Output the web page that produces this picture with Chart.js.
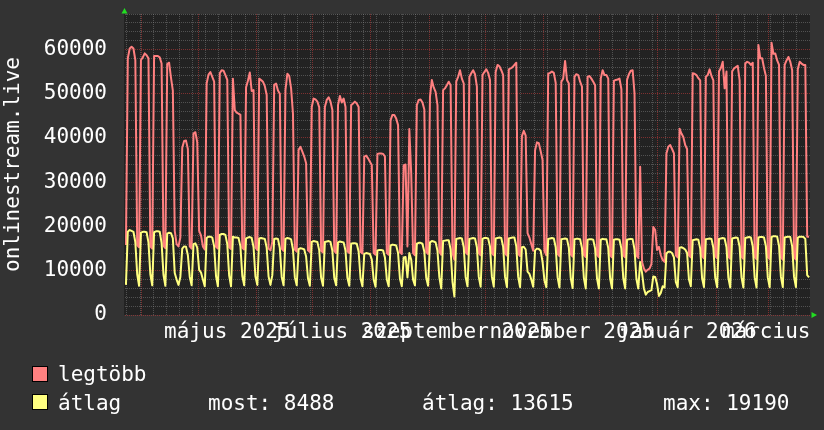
<!DOCTYPE html>
<html>
<head>
<meta charset="utf-8">
<script src="https://cdn.jsdelivr.net/npm/chart.js@4"></script>
<style>
  html, body { margin: 0; padding: 0; background: #333333; }
  canvas { display: block; }
</style>
</head>
<body>
<canvas id="chart" width="824" height="430"></canvas>
<script>
// one point per day, first day is Sunday 2025-03-23, then Mon..Sun rows
const maxValues = [15800,
  58000, 60200, 60600, 60200, 57600, 15800, 15300,
  57600, 58200, 59100, 58700, 58000, 15500, 15000,
  58500, 58500, 58500, 58200, 56800, 15600, 15100,
  56700, 57000, 53600, 50700, 19000, 16000, 15500,
  17500, 37800, 39300, 39400, 37500, 15500, 15000,
  41000, 41300, 39000, 19000, 18000, 15500, 14800,
  52300, 54300, 54900, 53800, 52700, 15400, 15000,
  54600, 55300, 55200, 54200, 53100, 15300, 14900,
  53400, 46300, 45700, 45500, 45200, 15200, 14800,
  51400, 52900, 54800, 50600, 50800, 15200, 14700,
  53400, 53100, 52700, 51700, 49700, 15000, 14600,
  16500, 52000, 52300, 50700, 50000, 15000, 14500,
  50800, 54500, 54000, 51200, 45500, 14800, 14300,
  37300, 38000, 36900, 35800, 34300, 14600, 14200,
  47000, 48900, 48700, 48200, 46900, 14500, 14100,
  47000, 48600, 49200, 48200, 46300, 14500, 14000,
  47400, 49500, 48000, 48900, 47000, 14400, 14000,
  47400, 47800, 48200, 47800, 47000, 14300, 13900,
  35800, 36000, 35400, 34600, 33900, 14000, 13600,
  36400, 36500, 36500, 36400, 35800, 14000, 13600,
  44000, 45200, 45200, 44400, 42900, 14200, 13800,
  33800, 34000, 15500, 42000, 32000, 14000, 13500,
  47400, 48600, 48700, 48000, 46400, 14200, 13800,
  49300, 53100, 51400, 50400, 47400, 14300, 13600,
  50800, 51200, 51900, 52700, 51900, 14000, 12500,
  52700, 53800, 55300, 53400, 52300, 14200, 13700,
  53800, 54600, 55300, 54400, 51600, 14000, 13500,
  54200, 54900, 55500, 54700, 53100, 14000, 13500,
  54900, 56500, 56200, 55300, 54200, 13900, 13400,
  55500, 55700, 56000, 56500, 57000, 13800, 13300,
  40400, 41600, 40500, 18500, 17500, 16000, 14500,
  37200, 39000, 38800, 37000, 35000, 14500, 13500,
  54500, 54700, 55000, 54700, 52400, 13800, 13300,
  52700, 53400, 57400, 53100, 52300, 13700, 13200,
  53800, 54400, 54200, 52700, 51600, 13600, 13100,
  53800, 54000, 53400, 52700, 51900, 13600, 13100,
  53400, 55300, 54200, 54200, 53400, 13500, 13000,
  52900, 53100, 53200, 53400, 51000, 13500, 13000,
  53100, 54400, 55200, 55300, 50000, 13400, 12900,
  33500, 12000, 10500, 9800, 10200, 10500, 11500,
  19900, 19200, 14700, 15400, 13500, 12400, 12000,
  36500, 38000, 38400, 37500, 36500, 13500, 13000,
  42100, 41000, 40200, 38400, 37500, 13500, 13000,
  54600, 54500, 54200, 53500, 53000, 13300, 12800,
  53800, 54200, 55500, 54000, 53000, 13300, 12800,
  55000, 55800, 57200, 51200, 55000, 13200, 12700,
  55000, 55700, 56000, 56300, 53000, 13200, 12700,
  56800, 57200, 57000, 56500, 57000, 13100, 12600,
  61000, 58000, 58000, 55800, 54000, 13100, 12600,
  61500, 59000, 59100, 57500, 56500, 13000, 12500,
  56500, 57500, 58300, 57200, 55300, 13000, 12500,
  55500, 57200, 56800, 56500, 56500, 17700, 17700
];

const avgValues = [6800,
  18800, 19190, 19000, 18800, 16500, 9200, 6600,
  18600, 18800, 18800, 18700, 16400, 9200, 6700,
  18700, 18900, 18900, 18800, 16300, 9100, 6600,
  18400, 18600, 18500, 17300, 9500, 8000, 6800,
  8600, 15000, 15500, 15400, 13500, 8600, 6700,
  16000, 16200, 15200, 10200, 9600, 8000, 6500,
  17400, 17700, 17700, 17500, 15500, 8800, 6500,
  18100, 18300, 18300, 18100, 16000, 8900, 6500,
  17700, 17500, 17500, 17400, 15500, 8800, 6700,
  17300, 17500, 17600, 17400, 15300, 8700, 6800,
  17300, 17400, 17300, 17200, 15200, 8700, 6800,
  9000, 17200, 17300, 17200, 15100, 8600, 6700,
  17200, 17400, 17300, 17100, 14800, 8500, 6700,
  14900, 15100, 15000, 14800, 13200, 8300, 6600,
  16500, 16700, 16600, 16500, 14600, 8400, 6600,
  16500, 16600, 16700, 16500, 14500, 8400, 6700,
  16400, 16600, 16500, 16400, 14500, 8400, 6600,
  16100, 16200, 16200, 16100, 14300, 8300, 6500,
  13800, 14000, 13900, 13800, 12500, 8000, 6400,
  14600, 14700, 14700, 14600, 13000, 8100, 6500,
  15700, 15900, 15800, 15700, 14000, 8200, 6500,
  13000, 13100, 8500, 14000, 12500, 8000, 6700,
  16100, 16300, 16300, 16100, 14300, 8400, 6600,
  16400, 16700, 16600, 16400, 14500, 8500, 6000,
  16700, 16800, 16900, 16900, 14800, 7500, 4200,
  17200, 17300, 17400, 17300, 15300, 8600, 6500,
  17200, 17300, 17400, 17300, 15300, 8600, 6400,
  17200, 17400, 17400, 17300, 15400, 8600, 6400,
  17300, 17400, 17500, 17400, 15400, 8600, 6300,
  17300, 17400, 17500, 17500, 15500, 8600, 6300,
  15300, 15400, 14800, 9800, 9300, 8000, 6400,
  14600, 15000, 14900, 14500, 12000, 7800, 6300,
  17200, 17300, 17400, 17300, 15300, 8500, 6200,
  17100, 17200, 17300, 17200, 15200, 8400, 6100,
  17100, 17200, 17200, 17100, 15100, 8400, 6000,
  17000, 17100, 17100, 17000, 15000, 8300, 6000,
  17000, 17200, 17100, 17100, 15100, 8300, 6000,
  17000, 17100, 17100, 17000, 15000, 8300, 6000,
  17000, 17100, 17200, 17100, 14800, 8200, 6000,
  12000, 9500, 6000, 4600, 5200, 5400, 5600,
  8700, 8600, 7000, 4300, 5000, 6500, 6200,
  13900, 14300, 14300, 14000, 13000, 7500, 6300,
  15200, 15300, 15100, 14800, 14000, 8000, 6500,
  16900, 17000, 17100, 17000, 15000, 8300, 6300,
  17100, 17200, 17300, 17200, 15200, 8400, 6300,
  17200, 17300, 17400, 17300, 15300, 8400, 6200,
  17300, 17400, 17500, 17400, 15400, 8500, 6200,
  17400, 17500, 17600, 17500, 15500, 8500, 6200,
  17500, 17600, 17600, 17500, 15500, 8500, 6300,
  17600, 17800, 17800, 17700, 15600, 8600, 6300,
  17500, 17600, 17700, 17600, 15500, 8600, 6300,
  17500, 17700, 17700, 17600, 17200, 9000, 8488
];

const monthLabels = ['május 2025', 'július 2025', 'szeptember 2025', 'november 2025', 'január 2026', 'március 2026'];
const labelMonths = [[2025, 4], [2025, 6], [2025, 8], [2025, 10], [2026, 0], [2026, 2]];
const yLabels = [0, 10000, 20000, 30000, 40000, 50000, 60000];
const yMax = 68000;
const seriesNames = ['legtöbb', 'átlag'];
const statMost = 8488;
const statAtlag = 13615;
const statMax = 19190;

const startDay = Date.UTC(2025, 2, 23);
const dayOf = (y, m, d) => Math.round((Date.UTC(y, m, d) - startDay) / 86400000);
const totalDays = maxValues.length;

const monthStarts = [];
for (let k = 0; k < 12; k++) {
  monthStarts.push(dayOf(2025 + Math.floor((3 + k) / 12), (3 + k) % 12, 1));
}
const gridDays = [];
for (let d = 1; d < totalDays; d += 7) gridDays.push(d);
monthStarts.forEach(d => { if (!gridDays.includes(d)) gridDays.push(d); });
gridDays.sort((a, b) => a - b);

const RED = '#ff8080';
const YELLOW = '#ffff80';
const MAJOR = 'rgba(200, 60, 60, 0.55)';
const MINOR = 'rgba(140, 140, 140, 0.45)';
const FONT = '21px "DejaVu Sans Mono", monospace';

const points = arr => arr.map((v, i) => ({ x: i + 0.5, y: v }));

const backdrop = {
  id: 'backdrop',
  beforeDraw(chart) {
    const { ctx, chartArea: a } = chart;
    ctx.save();
    ctx.fillStyle = '#333333';
    ctx.fillRect(0, 0, chart.width, chart.height);
    ctx.fillStyle = '#222222';
    ctx.fillRect(a.left - 1, a.top, a.right - a.left + 1, a.bottom - a.top);
    ctx.restore();
  }
};

const texts = {
  id: 'texts',
  afterDraw(chart) {
    const { ctx, chartArea: a } = chart;
    const x = chart.scales.x;
    ctx.save();
    ctx.font = FONT;
    ctx.fillStyle = '#ffffff';

    // y axis title
    ctx.save();
    ctx.translate(18.5, (a.top + a.bottom) / 2);
    ctx.rotate(-Math.PI / 2);
    ctx.textAlign = 'center';
    ctx.textBaseline = 'alphabetic';
    ctx.fillText('onlinestream.live', 0, 0);
    ctx.restore();

    // month labels
    ctx.textAlign = 'center';
    ctx.textBaseline = 'alphabetic';
    labelMonths.forEach(([y, m], i) => {
      const mid = (dayOf(y, m, 1) + dayOf(y, m + 1, 1)) / 2;
      ctx.fillText(monthLabels[i], x.getPixelForValue(mid), 338);
    });

    // green arrows
    ctx.fillStyle = '#22dd22';
    ctx.beginPath();
    ctx.moveTo(a.left - 0.5, 8);
    ctx.lineTo(a.left - 3.5, 13.5);
    ctx.lineTo(a.left + 2.5, 13.5);
    ctx.closePath();
    ctx.fill();
    ctx.beginPath();
    ctx.moveTo(a.right + 7, a.bottom);
    ctx.lineTo(a.right + 1.5, a.bottom - 3);
    ctx.lineTo(a.right + 1.5, a.bottom + 3);
    ctx.closePath();
    ctx.fill();

    // legend
    ctx.textAlign = 'left';
    ctx.lineWidth = 1;
    ctx.strokeStyle = '#000000';
    ctx.fillStyle = RED;
    ctx.fillRect(32, 366, 15, 15);
    ctx.strokeRect(32.5, 366.5, 15, 15);
    ctx.fillStyle = YELLOW;
    ctx.fillRect(32, 394, 15, 15);
    ctx.strokeRect(32.5, 394.5, 15, 15);
    ctx.fillStyle = '#ffffff';
    ctx.fillText(seriesNames[0], 58, 381);
    ctx.fillText(seriesNames[1], 58, 410);
    ctx.fillText('most: ' + statMost, 208, 410);
    ctx.fillText('átlag: ' + statAtlag, 422, 410);
    ctx.fillText('max: ' + statMax, 663, 410);
    ctx.restore();
  }
};

new Chart(document.getElementById('chart'), {
  type: 'line',
  data: {
    datasets: [
      { label: seriesNames[1], data: points(avgValues), borderColor: YELLOW, borderWidth: 2,
        pointRadius: 0, tension: 0, borderJoinStyle: 'round', fill: false },
      { label: seriesNames[0], data: points(maxValues), borderColor: RED, borderWidth: 2,
        pointRadius: 0, tension: 0, borderJoinStyle: 'round', fill: false }
    ]
  },
  options: {
    responsive: false,
    animation: false,
    devicePixelRatio: 1,
    layout: { padding: { left: 0, right: 14, top: 14, bottom: 0 } },
    plugins: { legend: { display: false }, tooltip: { enabled: false } },
    scales: {
      x: {
        type: 'linear', min: 0, max: totalDays,
        afterBuildTicks: s => { s.ticks = gridDays.map(v => ({ value: v })); },
        afterFit: s => { s.height = 115; s.paddingLeft = 0; s.paddingRight = 0; },
        ticks: { display: false },
        grid: { color: c => (c.tick && monthStarts.includes(c.tick.value)) ? MAJOR : MINOR, drawTicks: false },
        border: { display: false, dash: [1, 1] }
      },
      y: {
        min: 0, max: yMax,
        afterBuildTicks: s => {
          const t = [];
          for (let v = 0; v <= yMax; v += 2000) t.push({ value: v });
          s.ticks = t;
        },
        afterFit: s => { s.width = 125; s.paddingTop = 0; s.paddingBottom = 0; },
        ticks: {
          autoSkip: false, padding: 18, color: '#ffffff',
          font: { family: '"DejaVu Sans Mono", monospace', size: 21 },
          callback: v => yLabels.includes(v) ? String(v) : ''
        },
        grid: { color: c => (c.tick && c.tick.value % 10000 === 0) ? MAJOR : MINOR, drawTicks: false },
        border: { display: false, dash: [1, 1] }
      }
    }
  },
  plugins: [backdrop, texts]
});
</script>
</body>
</html>
